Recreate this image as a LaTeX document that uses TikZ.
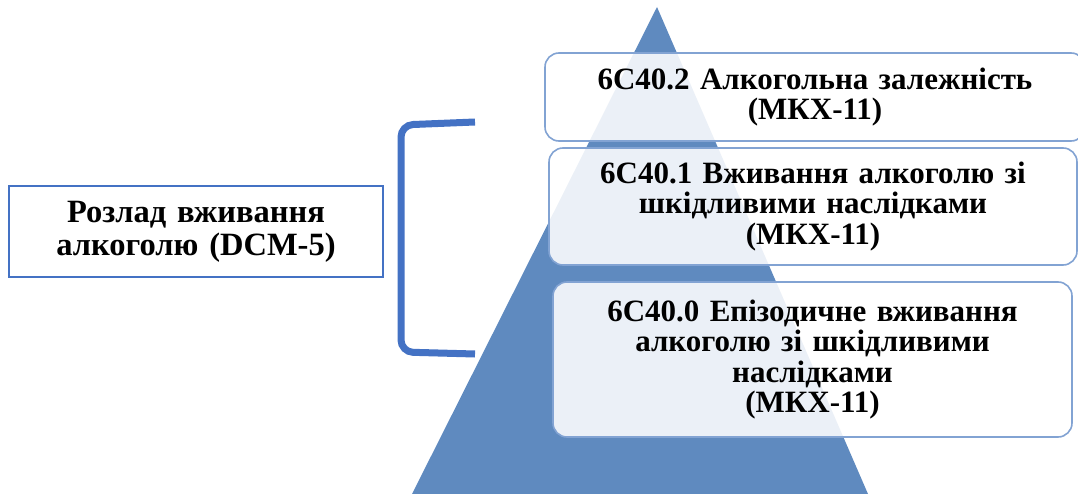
\documentclass[tikz,border=0pt]{standalone}
\usepackage{fontspec}
\setmainfont{Liberation Serif}
\definecolor{pyramid}{HTML}{5F8ABF}
\definecolor{bracketblue}{HTML}{4472C4}
\definecolor{boxline}{HTML}{82A3D3}
\tikzset{
  level/.style={draw=boxline, line width=1.6pt, fill=white, fill opacity=0.88,
    text opacity=1, rounded corners=14pt, align=center, inner sep=0pt,
    font=\fontsize{31}{30.5}\selectfont\bfseries},
  dsmbox/.style={draw=bracketblue, line width=1.8pt, fill=white, align=center,
    inner sep=0pt, font=\fontsize{32.5}{33}\selectfont\bfseries},
}
\begin{document}
\begin{tikzpicture}[x=1pt,y=-1pt]
\useasboundingbox (0,0) rectangle (1078,494);
\fill [pyramid] (657,7) -- (868,494) -- (412,494) -- cycle;
\node (dep) [level, minimum width=540pt, minimum height=88pt, text width=520pt] at (815,97)
  {6C40.2 Алкогольна залежність\\(МКХ-11)};
\node (harm) [level, minimum width=528pt, minimum height=117pt, text width=510pt] at (813,206.5)
  {6C40.1 Вживання алкоголю зі\\шкідливими наслідками\\(МКХ-11)};
\node (episode) [level, minimum width=519pt, minimum height=155pt, text width=505pt] at (812.5,359.5)
  {6C40.0 Епізодичне вживання\\алкоголю зі шкідливими\\наслідками\\(МКХ-11)};
\node (dsm) [dsmbox, minimum width=374pt, minimum height=91pt, text width=365pt] at (196,231.5)
  {Розлад вживання\\алкоголю (DCM-5)};
\draw [bracketblue, line width=7pt, rounded corners=12pt] (475,122) -- (401,125) -- (401,352) -- (475,354);
\end{tikzpicture}
\end{document}
